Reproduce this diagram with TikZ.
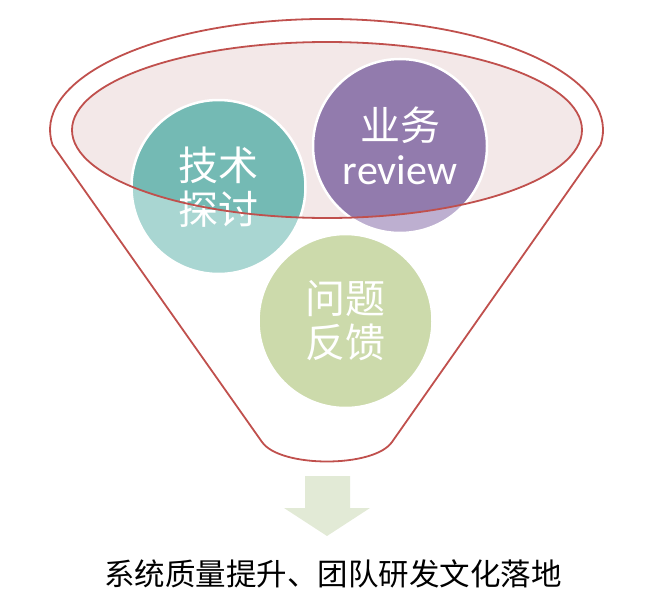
\documentclass[tikz,border=0pt]{standalone}
\usepackage{fontspec}
\newfontfamily\cjk{Noto Sans CJK SC}
\newfontfamily\latin{Carlito}
\definecolor{funnelred}{HTML}{C0504D}
\definecolor{rimfill}{HTML}{F3E8E8}
\definecolor{tealdark}{HTML}{74BAB4}
\definecolor{teallight}{HTML}{A9D6D2}
\definecolor{purpledark}{HTML}{927BAD}
\definecolor{purplelight}{HTML}{BDAFD0}
\definecolor{olivelight}{HTML}{CCDAAB}
\definecolor{arrowgreen}{HTML}{E2EAD6}

\begin{document}
\begin{tikzpicture}[
    x=1pt, y=-1pt,
    funnel/.style={draw=funnelred, line width=1.8pt},
    bubble/.style={circle, draw=white, line width=2.5pt, minimum size=174pt, inner sep=0pt, align=center, text=white, font=\cjk\fontsize{40}{44}\selectfont}
  ]
  \useasboundingbox (0,0) rectangle (658,610);

  \coordinate (t) at (218.5,187);
  \coordinate (b) at (400,146);
  \coordinate (q) at (345.5,321);

  % funnel body
  \draw[funnel] (52.6,145) arc[start angle=172.2, end angle=367.8, x radius=276.5, y radius=111]
    -- (392,442) .. controls (374,468) and (280,468) .. (262,442) -- cycle;
  \fill[rimfill] (327,130) ellipse [x radius=255, y radius=88];

  % bubbles, darker inside the rim
  \fill[teallight] (t) circle (87);
  \fill[purplelight] (b) circle (87);
  \fill[olivelight] (q) circle (87);
  \begin{scope}
    \clip (327,130) ellipse [x radius=255, y radius=88];
    \fill[tealdark] (t) circle (87);
    \fill[purpledark] (b) circle (87);
  \end{scope}

  \node[bubble] (tech) at (t) {技术\\探讨};
  \node[bubble] (biz) at (b) {业务\\{\latin\fontsize{42}{44}\selectfont review}};
  \node[bubble] (issue) at (q) {问题\\反馈};

  \draw[funnel] (327,130) ellipse [x radius=255, y radius=88];

  % result
  \fill[arrowgreen] (305,476) -- (350,476) -- (350,508) -- (370,508) -- (327,536) -- (284,508) -- (305,508) -- cycle;
  \node[font=\cjk\fontsize{30.5}{34}\selectfont] (result) at (333,574) {系统质量提升、团队研发文化落地};
\end{tikzpicture}
\end{document}
